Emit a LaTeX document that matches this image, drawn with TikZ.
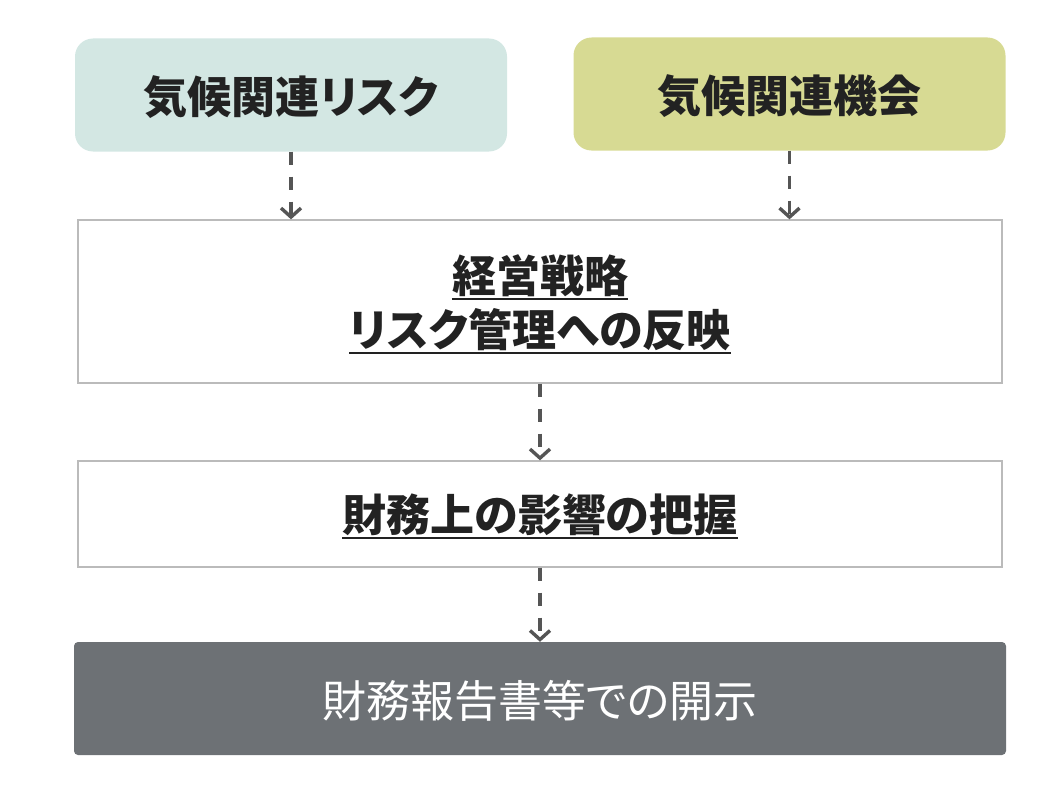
\documentclass[tikz,border=0pt]{standalone}
\usepackage{fontspec}
\setmainfont{Noto Sans CJK JP}[RawFeature=+palt]
\usetikzlibrary{arrows.meta}
\definecolor{riskc}{HTML}{D3E7E3}
\definecolor{oppc}{HTML}{D7DA93}
\definecolor{discc}{HTML}{6D7175}
\definecolor{txtc}{HTML}{222222}
\definecolor{arrc}{HTML}{555555}
\definecolor{bordc}{HTML}{BBBBBB}
\tikzset{
  topbox/.style={rounded corners=18pt, minimum width=432pt, minimum height=113pt, inner sep=0pt},
  plainbox/.style={draw=bordc, line width=1.3pt, fill=white, minimum width=924pt, inner sep=0pt},
  discbox/.style={fill=discc, rounded corners=4pt, minimum width=932pt, minimum height=113pt, inner sep=0pt},
  btext/.style={inner sep=0pt, anchor=base, text=txtc, font=\bfseries\fontsize{44pt}{50pt}\selectfont},
  wtext/.style={inner sep=0pt, anchor=base, text=white, font=\fontsize{44pt}{50pt}\selectfont},
  uline/.style={draw=txtc, line width=2.2pt},
  conn/.style={draw=arrc, line width=3.6pt, dash pattern=on 13pt off 12pt, -{Straight Barb[length=9pt,width=20pt,line width=3.4pt]}},
}
\begin{document}
\begin{tikzpicture}[x=1pt,y=-1pt]
\useasboundingbox (0,0) rectangle (1041,800);
\node[topbox, fill=riskc] (risk) at (291,95) {};
\node[topbox, fill=oppc] (opp) at (789.5,94) {};
\node[plainbox, minimum height=163pt] (box2) at (540,301.5) {};
\node[plainbox, minimum height=106pt] (box3) at (540,514) {};
\node[discbox] (disc) at (540,698.5) {};

\node[btext] (riskt) at (291,113) {気候関連リスク};
\node[btext] (oppt) at (789.5,112) {気候関連機会};
\node[btext] (l1) at (540,292) {経営戦略};
\node[btext] (l2) at (540,346) {リスク管理への反映};
\node[btext] (l3) at (540,531) {財務上の影響の把握};
\node[wtext] (dt) at (540,717) {財務報告書等での開示};

\draw[uline] ([yshift=-7pt]l1.base west) -- ([yshift=-7pt]l1.base east);
\draw[uline] ([yshift=-7pt]l2.base west) -- ([yshift=-7pt]l2.base east);
\draw[uline] ([yshift=-7pt]l3.base west) -- ([yshift=-7pt]l3.base east);

\draw[conn] (risk.south) -- (risk.south |- box2.north);
\draw[conn] (opp.south) -- (opp.south |- box2.north);
\draw[conn] (box2.south) -- (box3.north);
\draw[conn] (box3.south) -- (disc.north);
\end{tikzpicture}
\end{document}
